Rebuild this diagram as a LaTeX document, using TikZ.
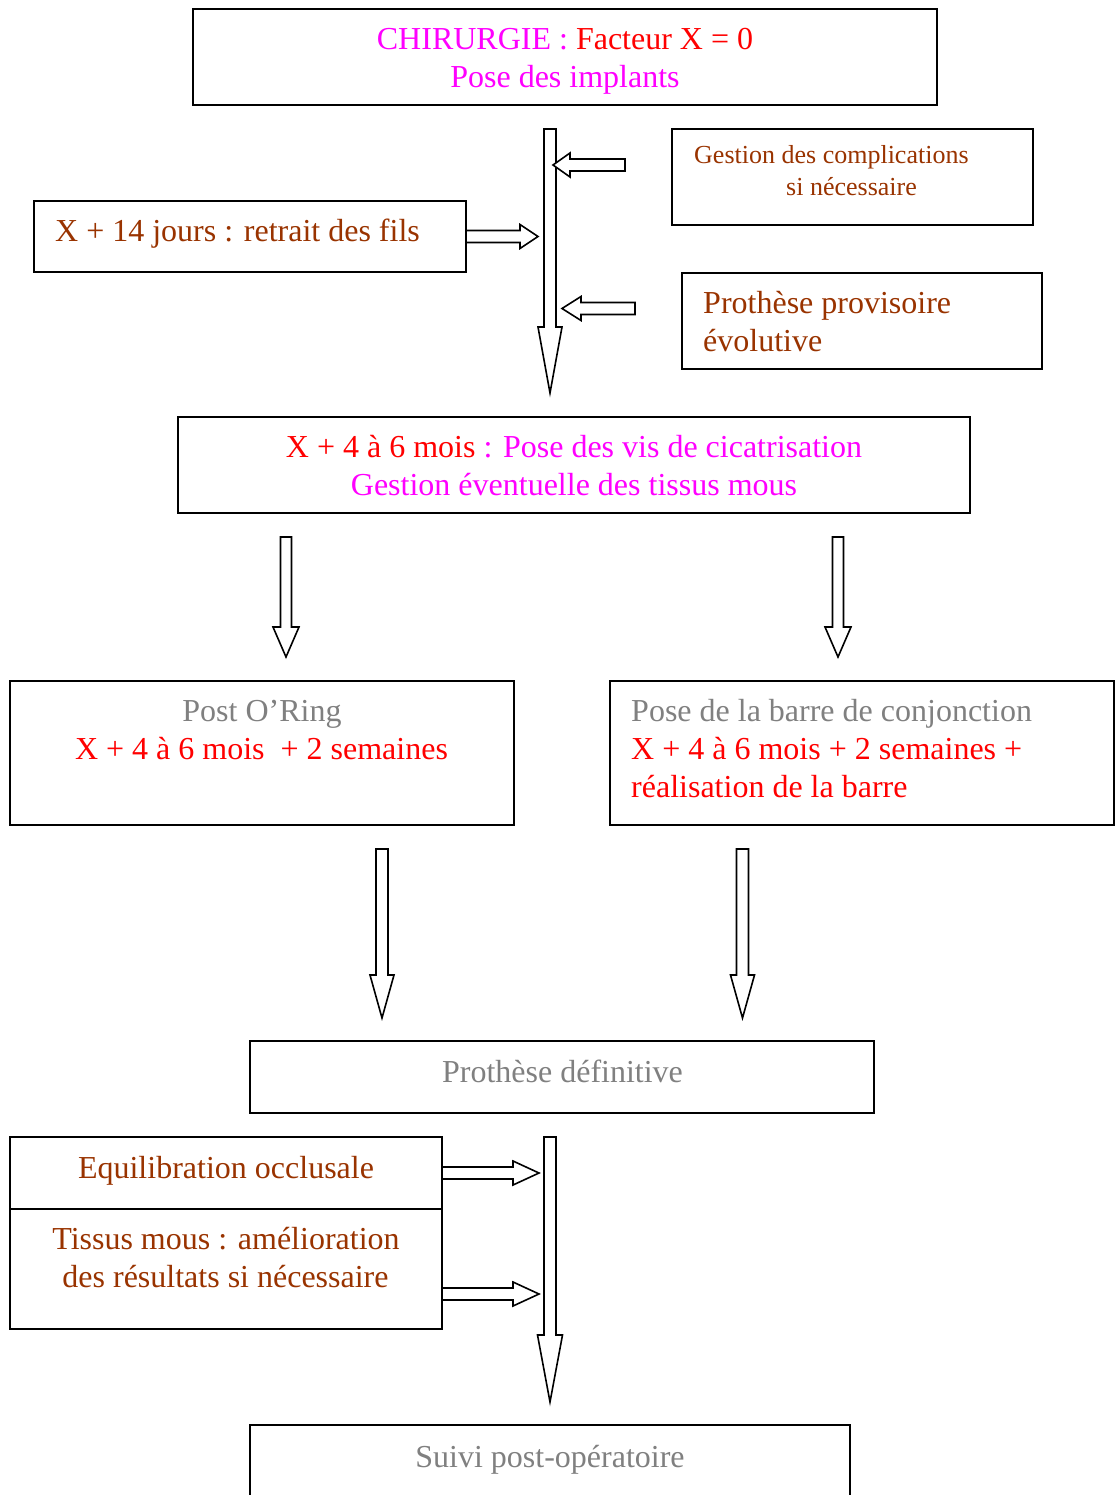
\documentclass[tikz,border=0pt]{standalone}
\usepackage{fontspec}
\setmainfont{Liberation Serif}
\usetikzlibrary{calc}
\definecolor{brn}{HTML}{993300}
\definecolor{gry}{HTML}{808080}
\definecolor{mag}{HTML}{FF00FF}
\definecolor{rd}{HTML}{FF0000}
\newcommand{\hblk}[3]{%
  \draw[blk] let \p1=(#1), \p2=(#2) in
  (\x1,{\y2+6pt}) -- ({\x2+(#3)},{\y2+6pt}) -- ({\x2+(#3)},{\y2+12pt}) -- (\x2,\y2)
  -- ({\x2+(#3)},{\y2-12pt}) -- ({\x2+(#3)},{\y2-6pt}) -- (\x1,{\y2-6pt}) -- cycle;}
\newcommand{\vblk}[5]{%
  \draw[blk] let \p1=(#1), \p2=(#2) in
  ({\x2-#4},\y1) -- ({\x2+#4},\y1) -- ({\x2+#4},{\y2+#3}) -- ({\x2+#5},{\y2+#3}) -- (\x2,\y2)
  -- ({\x2-#5},{\y2+#3}) -- ({\x2-#4},{\y2+#3}) -- cycle;}
\begin{document}
\begin{tikzpicture}[x=1pt,y=-1pt,
  box/.style={draw, line width=1.6pt, inner sep=0pt, outer sep=0pt},
  blk/.style={draw, line width=1.6pt, fill=white, line join=miter},
  big/.style={inner sep=0pt, font=\fontsize{32}{38}\selectfont},
  small/.style={inner sep=0pt, font=\fontsize{26}{32}\selectfont}]
\useasboundingbox (0,0) rectangle (1117,1495);
\clip (0,0) rectangle (1117,1495);
% boxes
\node[box, minimum width=744, minimum height=96] (b1) at (565,57) {};
\node[box, minimum width=361, minimum height=96] (b2) at (852.5,177) {};
\node[box, minimum width=432, minimum height=71] (b3) at (250,236.5) {};
\node[box, minimum width=360, minimum height=96] (b4) at (862,321) {};
\node[box, minimum width=792, minimum height=96] (b5) at (574,465) {};
\node[box, minimum width=504, minimum height=144] (b6) at (262,753) {};
\node[box, minimum width=504, minimum height=144] (b7) at (862,753) {};
\node[box, minimum width=624, minimum height=72] (b8) at (562,1077) {};
\node[box, minimum width=432, minimum height=72] (b9) at (226,1173) {};
\node[box, minimum width=432, minimum height=120] (b10) at (226,1269) {};
\node[box, minimum width=600, minimum height=120] (b11) at (550,1485) {};
% texts
\node[big, anchor=base] (t1a) at (565,49.5) {\textcolor{mag}{CHIRURGIE :} \textcolor{rd}{Facteur X = 0}};
\node[big, anchor=base, text=mag] (t1b) at (565,87.5) {Pose des implants};
\node[small, anchor=base west, text=brn] (t2a) at (694,164) {Gestion des complications};
\node[small, anchor=base west, text=brn] (t2b) at (786,196) {si nécessaire};
\node[big, anchor=base west, text=brn] (t3) at (55,242) {X + 14 jours : retrait des fils};
\node[big, anchor=base west, text=brn] (t4a) at (703,313) {Prothèse provisoire};
\node[big, anchor=base west, text=brn] (t4b) at (703,351) {évolutive};
\node[big, anchor=base] (t5a) at (574,457) {\textcolor{rd}{X + 4 à 6 mois} \textcolor{mag}{: Pose des vis de cicatrisation}};
\node[big, anchor=base, text=mag] (t5b) at (574,495) {Gestion éventuelle des tissus mous};
\node[big, anchor=base, text=gry] (t6a) at (262,721) {Post O’Ring};
\node[big, anchor=base, text=rd] (t6b) at (261.5,759) {X + 4 à 6 mois \ + 2 semaines};
\node[big, anchor=base west, text=gry] (t7a) at (631,721) {Pose de la barre de conjonction};
\node[big, anchor=base west, text=rd] (t7b) at (631,759) {X + 4 à 6 mois + 2 semaines +};
\node[big, anchor=base west, text=rd] (t7c) at (631,797) {réalisation de la barre};
\node[big, anchor=base, text=gry] (t8) at (562.5,1082) {Prothèse définitive};
\node[big, anchor=base, text=brn] (t9) at (226,1178) {Equilibration occlusale};
\node[big, anchor=base, text=brn] (t10a) at (226,1249) {Tissus mous : amélioration};
\node[big, anchor=base, text=brn] (t10b) at (225.5,1287) {des résultats si nécessaire};
\node[big, anchor=base, text=gry] (t11) at (550,1467) {Suivi post-opératoire};
% arrow endpoints
\coordinate (m1s) at (550,129);
\coordinate (m1e) at (550,393);
\coordinate (g1) at (625,165);
\coordinate (g2) at (553,165);
\coordinate (p1) at (635,308.5);
\coordinate (p2) at (562,308.5);
\coordinate (x2) at (538,236.5);
\coordinate (d1s) at (286,537);
\coordinate (d1e) at (286,657);
\coordinate (d2s) at (838,537);
\coordinate (d2e) at (838,657);
\coordinate (d3s) at (382,849);
\coordinate (d3e) at (382,1018);
\coordinate (d4s) at (742.5,849);
\coordinate (d4e) at (742.5,1018);
\coordinate (m2s) at (550,1137);
\coordinate (m2e) at (550,1402);
\coordinate (e1) at (539,1173);
\coordinate (e2s) at (442,1294);
\coordinate (e2) at (539,1294);
% arrows
\vblk{m1s}{m1e}{66pt}{6pt}{12pt}
\hblk{g1}{g2}{17pt}
\hblk{p1}{p2}{19pt}
\hblk{b3.east}{x2}{-18pt}
\vblk{d1s}{d1e}{30pt}{5.5pt}{13pt}
\vblk{d2s}{d2e}{30pt}{5.5pt}{13pt}
\vblk{d3s}{d3e}{43pt}{6pt}{12pt}
\vblk{d4s}{d4e}{43pt}{6pt}{12pt}
\vblk{m2s}{m2e}{67pt}{6pt}{12.5pt}
\hblk{b9.east}{e1}{-26pt}
\hblk{e2s}{e2}{-26pt}
\end{tikzpicture}
\end{document}
